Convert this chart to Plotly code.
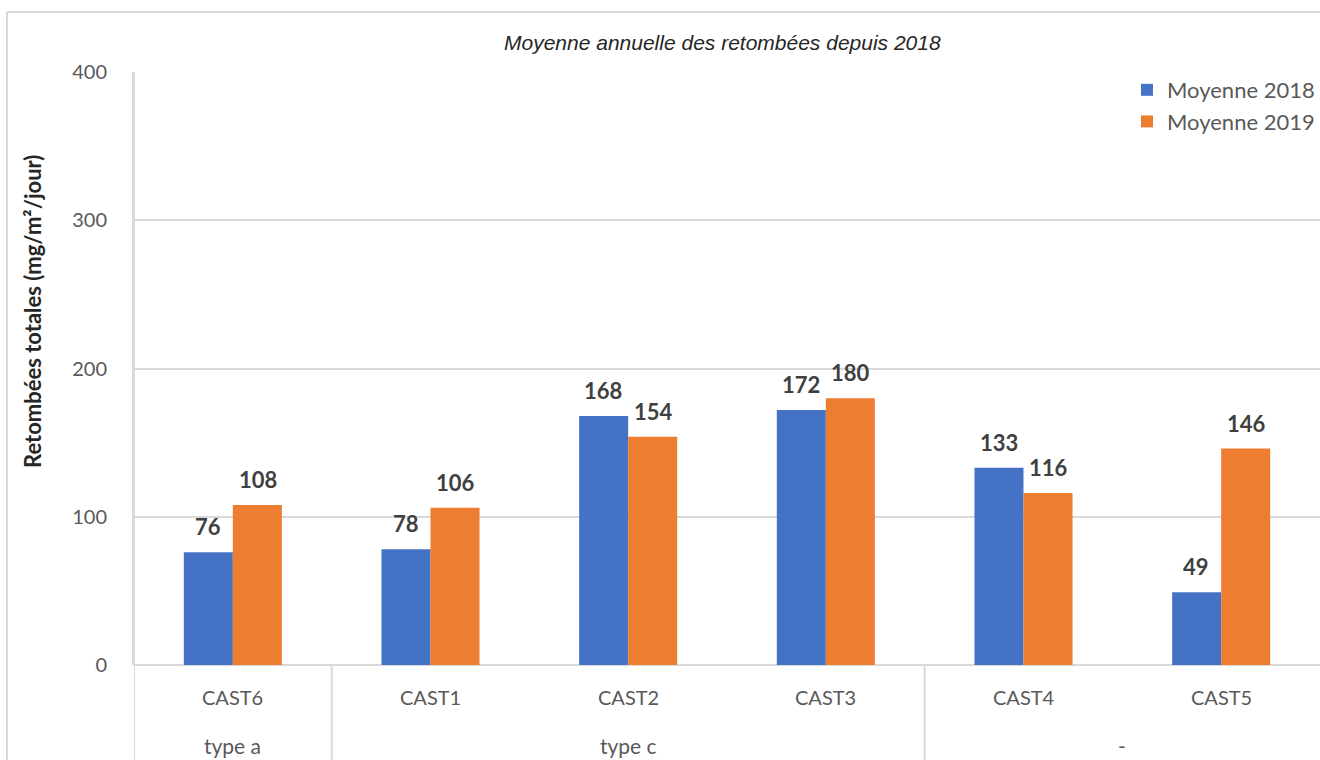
import plotly.graph_objects as go

# chart data
stations = ['CAST6', 'CAST1', 'CAST2', 'CAST3', 'CAST4', 'CAST5']
groups = ['type a', 'type c', '-']
group_centers = [0, 2, 4.5]      # middle of each group, in category index
group_bounds = [-0.5, 0.5, 3.5]  # where each group starts
moy_2018 = [76, 78, 168, 172, 133, 49]
moy_2019 = [108, 106, 154, 180, 116, 146]
y_ticks = [0, 100, 200, 300, 400]

W, H = 1320, 760
L, R, T, B = 134, 0, 72, 95
plot_w = W - L - R
plot_h = H - T - B


# pixel -> paper helpers
def px(x):
    return (x - L) / plot_w


def py(y):
    return (H - B - y) / plot_h


BLUE = '#4472C4'
ORANGE = '#ED7D31'
GRID = '#d9d9d9'
GRAY = '#595959'
FONT = 'Lato'

fig = go.Figure()
fig.add_trace(go.Bar(x=stations, y=moy_2018, name='Moyenne 2018',
                     marker=dict(color=BLUE, line=dict(width=0))))
fig.add_trace(go.Bar(x=stations, y=moy_2019, name='Moyenne 2019',
                     marker=dict(color=ORANGE, line=dict(width=0))))

# data labels above the bars
for vals, shift in [(moy_2018, -25), (moy_2019, 25)]:
    for s, v in zip(stations, vals):
        fig.add_annotation(x=s, y=v, text=str(v), showarrow=False,
                           xshift=shift, yshift=10, yanchor='bottom',
                           font=dict(family=FONT, size=22, color='#404040', weight='bold'))

# station labels under the axis
for s in stations:
    fig.add_annotation(x=s, y=py(697), yref='paper', yanchor='middle',
                       text=s, showarrow=False,
                       font=dict(family=FONT, size=20, color=GRAY))

# group labels
for g, c in zip(groups, group_centers):
    fig.add_annotation(x=c, y=py(745), yref='paper', yanchor='middle',
                       text=g, showarrow=False,
                       font=dict(family=FONT, size=21, color=GRAY))

# group dividers
for b in group_bounds:
    y_top = py(T) if b == -0.5 else 0
    fig.add_shape(type='line', xref='x', yref='paper', x0=b, x1=b,
                  y0=y_top, y1=py(H + 5), line=dict(color=GRID, width=2))

# outer chart frame
fig.add_shape(type='line', xref='paper', yref='paper', x0=px(7), x1=px(7),
              y0=py(12), y1=py(H + 5), line=dict(color=GRID, width=2))
fig.add_shape(type='line', xref='paper', yref='paper', x0=px(7), x1=px(W + 5),
              y0=py(12), y1=py(12), line=dict(color=GRID, width=2))

# title
fig.add_annotation(x=px(722), y=py(42), xref='paper', yref='paper',
                   xanchor='center', yanchor='middle',
                   text='<i>Moyenne annuelle des retombées depuis 2018</i>',
                   showarrow=False,
                   font=dict(family='Liberation Sans', size=21, color='#262626'))

# y axis title
fig.add_annotation(x=px(32), y=py(312), xref='paper', yref='paper',
                   xanchor='center', yanchor='middle',
                   text='<b>Retombées totales (mg/m²/jour)</b>', textangle=-90,
                   showarrow=False,
                   font=dict(family=FONT, size=22, color='#262626'))

fig.update_layout(
    width=W, height=H,
    margin=dict(l=L, r=R, t=T, b=B),
    paper_bgcolor='white', plot_bgcolor='white',
    barmode='group', bargap=0.504, bargroupgap=0,
    showlegend=True,
    legend=dict(x=1, xanchor='right', y=py(69), yanchor='top',
                font=dict(family=FONT, size=22, color=GRAY),
                bgcolor='rgba(0,0,0,0)', itemsizing='constant',
                tracegroupgap=2),
)
fig.update_xaxes(showticklabels=False, showgrid=False, zeroline=False,
                 showline=False, ticks='', range=[-0.5, 5.5])
fig.update_yaxes(range=[0, 400], tickvals=y_ticks, showgrid=True,
                 gridcolor=GRID, gridwidth=2, zeroline=True, zerolinecolor=GRID,
                 zerolinewidth=2, showline=True, linecolor=GRID, linewidth=2,
                 ticks='', ticklabelstandoff=21,
                 tickfont=dict(family=FONT, size=20, color=GRAY))

fig.write_html('out.html', config={'displayModeBar': False},
               post_script="document.body.style.margin='0';"
                           "document.body.style.overflow='hidden';")
